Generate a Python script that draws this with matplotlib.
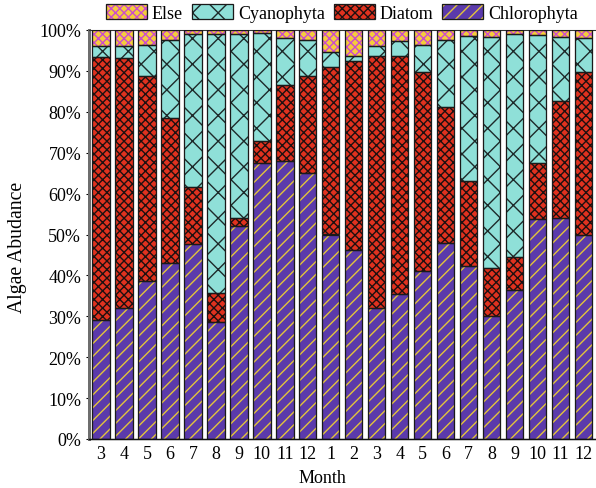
import matplotlib
matplotlib.use("Agg")
import matplotlib.pyplot as plt
from matplotlib.patches import Patch
from matplotlib.legend_handler import HandlerTuple
import numpy as np

# Sampling months (two consecutive years)
months = [3, 4, 5, 6, 7, 8, 9, 10, 11, 12, 1, 2, 3, 4, 5, 6, 7, 8, 9, 10, 11, 12]

# Relative abundance of each algal group (%)
chlorophyta = [29.2, 32.0, 38.7, 43.0, 47.7, 28.7, 52.2, 67.5, 68.0, 65.0, 50.0,
               46.1, 32.0, 35.5, 41.0, 48.0, 42.2, 30.0, 36.5, 53.9, 54.1, 49.8]
diatom = [64.1, 61.2, 50.0, 35.6, 13.9, 6.9, 1.8, 5.4, 18.6, 23.8, 40.9,
          46.3, 61.7, 58.1, 48.7, 33.1, 21.0, 11.7, 7.9, 13.7, 28.5, 40.0]
cyanophyta = [2.7, 3.0, 7.7, 19.0, 37.4, 63.4, 45.0, 26.3, 11.4, 8.8, 3.6,
              1.2, 2.5, 3.6, 6.7, 16.5, 35.4, 56.5, 54.5, 31.1, 15.6, 8.2]
other = [4.0, 3.8, 3.6, 2.4, 1.0, 1.0, 1.0, 0.8, 2.0, 2.4, 5.5,
         6.4, 3.8, 2.8, 3.6, 2.4, 1.4, 1.8, 1.1, 1.3, 1.8, 2.0]

yticks = list(range(0, 101, 10))
ytick_labels = [f"{v}%" for v in yticks]

DPI = 77
FS = 16.8
plt.rcParams["font.family"] = ["Liberation Serif", "DejaVu Serif"]
plt.rcParams["hatch.linewidth"] = 1.3

fig = plt.figure(figsize=(596 / DPI, 489 / DPI), dpi=DPI)
ax = fig.add_axes([89 / 596, 1 - 440 / 489, 506 / 596, 409 / 489])

x = np.arange(len(months))
width = 0.76
outline = "#1a1a1a"

# (label, values, face colour, hatch colour, hatch pattern), stacked bottom-up
layers = [
    ("Chlorophyta", chlorophyta, "#5b3aab", "#e3c43c", "//"),
    ("Diatom", diatom, "#e0321f", "#1e1010", "xxx"),
    ("Cyanophyta", cyanophyta, "#8fe0d8", "#1e2a2a", "x"),
    ("Else", other, "#f5cc3c", "#cc4ccc", "xxx"),
]

bottom = np.zeros(len(months))
handles = {}
for label, vals, face, hcol, hatch in layers:
    vals = np.asarray(vals)
    ax.bar(x, vals, bottom=bottom, width=width, color=face, edgecolor=hcol,
           hatch=hatch, linewidth=0, zorder=2)
    ax.bar(x, vals, bottom=bottom, width=width, fill=False, edgecolor=outline,
           linewidth=1.2, zorder=3)
    bottom += vals
    handles[label] = (
        Patch(facecolor=face, edgecolor=hcol, hatch=hatch, linewidth=0),
        Patch(fill=False, edgecolor=outline, linewidth=1.2),
    )

ax.set_xlim(-0.52, len(months) - 0.5)
ax.set_ylim(0, 100)
ax.set_xticks(x)
ax.set_xticklabels([str(m) for m in months], fontsize=FS)
ax.set_yticks(yticks)
ax.set_yticklabels(ytick_labels, fontsize=FS)
ax.tick_params(axis="x", length=0, pad=5.6)
ax.tick_params(axis="y", length=2.8, width=1.0, pad=4.5, direction="out")

ax.spines["left"].set_color("#6e6e6e")
ax.spines["left"].set_linewidth(2.8)
ax.spines["bottom"].set_color("#111111")
ax.spines["bottom"].set_linewidth(1.4)
ax.spines["top"].set_color("#333333")
ax.spines["top"].set_linewidth(1.0)
ax.spines["right"].set_visible(False)

ax.set_ylabel("Algae Abudance", fontsize=18.5)
ax.yaxis.set_label_coords(-0.122, 0.47)
ax.set_xlabel("Month", fontsize=FS)
ax.xaxis.set_label_coords(0.461, -0.074)

order = ["Else", "Cyanophyta", "Diatom", "Chlorophyta"]
ax.legend([handles[k] for k in order], order,
          handler_map={tuple: HandlerTuple(ndivide=1, pad=0)},
          loc="center", bbox_to_anchor=(342 / 596, 1 - 14 / 489),
          bbox_transform=fig.transFigure, ncol=4, frameon=False,
          fontsize=FS, handlelength=2.28, handleheight=0.93,
          handletextpad=0.28, columnspacing=0.5, borderaxespad=0,
          borderpad=0)

fig.savefig("out.png", dpi=DPI)
